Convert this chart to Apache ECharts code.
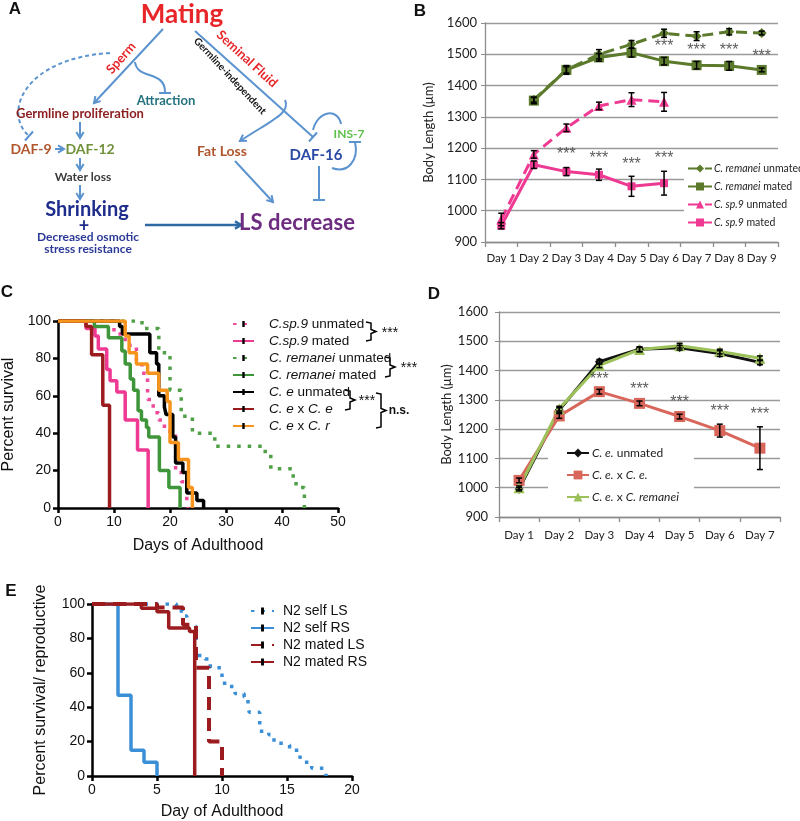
<!DOCTYPE html>
<html><head><meta charset="utf-8">
<script src="https://cdn.jsdelivr.net/npm/echarts/dist/echarts.min.js"></script>
<style>html,body{margin:0;padding:0;background:#fff}#c{width:800px;height:821px}</style>
</head><body><div id="c"></div>
<script>
// ---------------- Panel B data ----------------
const daysB = ['Day 1','Day 2','Day 3','Day 4','Day 5','Day 6','Day 7','Day 8','Day 9'];
const remUnmated    = [null, 1355, 1450, 1500, 1532, 1567, 1558, 1572, 1568];
const remUnmatedErr = [null, 8, 10, 15, 12, 13, 14, 10, 6];
const remMated      = [null, 1352, 1450, 1490, 1505, 1478, 1465, 1463, 1450];
const remMatedErr   = [null, 10, 14, 12, 14, 12, 12, 14, 6];
const sp9Unmated    = [972, 1180, 1265, 1335, 1355, 1348];
const sp9UnmatedErr = [20, 12, 12, 12, 22, 30];
const sp9Mated      = [952, 1147, 1125, 1115, 1078, 1088];
const sp9MatedErr   = [10, 12, 13, 18, 32, 38];
const starsBsp9 = [[2,1178],[3,1167],[4,1148],[5,1167]];
const starsBrem = [[5,1523],[6,1513],[7,1513],[8,1494]];

// ---------------- Panel C data (Kaplan-Meier step points: [day, % survival]) ----------------
const sp9UnmatedLS = [[0,100],[10,93],[12,87],[14,79],[15,72],[16,66],[16,58],[17,51],[18,47],[19,41],[21,19],[22,14],[23,4],[23.2,0]];
const sp9MatedLS   = [[0,100],[5,96],[6.6,92],[7.2,85],[8.7,74],[9.3,68],[10.5,62],[12,47],[14.2,31],[16.1,0]];
const remUnmatedLS = [[0,100],[15,96],[18,83],[20,70],[20,63],[22,55],[22,49],[24,47],[24,40],[28,33],[37,29],[38,21],[42,19],[42,13],[43,11],[44,6],[44,0]];
const remMatedLS   = [[0,100],[6.5,97],[9,91],[11.4,84],[12,77],[12.9,69],[13.5,63],[14.3,52],[14.9,47],[15.8,43],[16.2,38],[18.1,20],[19.8,11],[21.8,0]];
const ceUnmatedLS  = [[0,100],[11,97],[11.5,93],[16.4,83],[17.6,77],[18,60],[19,54],[19.3,50],[20.5,38],[21,24],[22.3,19],[23,8],[24.8,4],[26,0]];
const ceXceLS      = [[0,100],[5,97],[6,82],[8,55],[9.2,0]];
const ceXcrLS      = [[0,100],[12,92],[12.7,83],[14,77],[16,72],[18,63],[19.5,57],[20,35],[21.5,26],[23.3,11],[24,0]];

// ---------------- Panel D data ----------------
const daysD = ['Day 1','Day 2','Day 3','Day 4','Day 5','Day 6','Day 7'];
const ceUnmatedD    = [995, 1265, 1430, 1473, 1478, 1458, 1428];
const ceUnmatedDErr = [6, 8, 8, 8, 8, 10, 8];
const ceXceD        = [1025, 1245, 1328, 1288, 1243, 1195, 1135];
const ceXceDErr     = [8, 8, 8, 8, 8, 22, 73];
const ceXcrD        = [1000, 1270, 1418, 1472, 1485, 1465, 1442];
const ceXcrDErr     = [6, 8, 8, 8, 8, 8, 8];
const starsD = [[2,1369],[3,1335],[4,1289],[5,1260],[6,1249]];

// ---------------- Panel E data ----------------
const selfLS  = [[0,100],[6.5,96],[7,93],[7.3,87],[8,86],[8,70],[8.7,68],[9.1,63],[10,62],[10,56],[10.2,52],[11,48],[11.7,46],[12,40],[12.1,37],[12.9,35],[12.9,26],[13.6,24],[14,19],[14.9,18],[15.2,15],[16,11],[16.1,8],[16.9,4.5],[17.8,3.5],[18,0]];
const selfRS  = [[0,100],[2,47],[3,15],[4,8],[5,0]];
const matedLS = [[0,100],[5,98],[7,88],[8,84],[8,63],[9,20],[10,0]];
const matedRS = [[0,100],[3.8,97.5],[5,95.5],[5.9,86],[7.5,84],[7.9,0]];

// ---------------- helpers ----------------
const CAL = 'Lato, "Open Sans", sans-serif';
const HEL = '"Liberation Sans", Arial, sans-serif';

function errData(vals, errs){
  const out = [];
  vals.forEach((v,i)=>{ if(v!=null && errs[i]!=null) out.push([i, v-errs[i], v+errs[i]]); });
  return out;
}
function errRender(params, api){
  const x = api.value(0);
  const p1 = api.coord([x, api.value(1)]), p2 = api.coord([x, api.value(2)]);
  const w = 3, st = {stroke:'#000', lineWidth:1.5};
  return {type:'group', children:[
    {type:'line', shape:{x1:p1[0],y1:p1[1],x2:p2[0],y2:p2[1]}, style:st},
    {type:'line', shape:{x1:p1[0]-w,y1:p1[1],x2:p1[0]+w,y2:p1[1]}, style:st},
    {type:'line', shape:{x1:p2[0]-w,y1:p2[1],x2:p2[0]+w,y2:p2[1]}, style:st}
  ]};
}
function errSeries(idx, vals, errs){
  return {type:'custom', xAxisIndex:idx, yAxisIndex:idx, renderItem:errRender, data:errData(vals,errs), z:5, silent:true};
}
function starSeries(idx, pts){
  return {type:'scatter', xAxisIndex:idx, yAxisIndex:idx, data:pts, symbolSize:1, silent:true,
    itemStyle:{color:'rgba(0,0,0,0)'},
    label:{show:true, position:'inside', formatter:'***', color:'#333', fontSize:16, fontFamily:HEL}, z:6};
}
// censor-tick legend mark: thin bar in a square box (tiny corner specks keep the box square)
const TICK = 'path://M0 0h0.01v0.01h-0.01Z M1.05 0.4H1.95V2.6H1.05Z M2.99 2.99h0.01v0.01h-0.01Z';
function kmSeries(idx, name, data, color, dash, width){
  return {type:'line', name, xAxisIndex:idx, yAxisIndex:idx, data, step:'end', symbol:TICK, symbolSize:6, showSymbol:false, silent:true,
    lineStyle:{color, width:width||3.5, type:dash||'solid', cap:'butt'}, itemStyle:{color:'#000'}};
}
function lineSeries(idx, name, data, color, symbol, size, dash){
  return {type:'line', name, xAxisIndex:idx, yAxisIndex:idx, data, symbol, symbolSize:size, silent:true,
    lineStyle:{color, width:3, type:dash||'solid'}, itemStyle:{color}};
}

// graphic helpers for diagram
const BL = '#5b93cf';
function ln(x1,y1,x2,y2,c,w,dash){ return {type:'line', shape:{x1,y1,x2,y2}, style:{stroke:c||BL, lineWidth:w||2, lineDash:dash||null}, silent:true}; }
function head(x,y,ang,c,w){
  const L=7, s=0.55;
  return {type:'polyline', shape:{points:[[x-L*Math.cos(ang-s), y-L*Math.sin(ang-s)],[x,y],[x-L*Math.cos(ang+s), y-L*Math.sin(ang+s)]]}, style:{stroke:c||BL, lineWidth:w||2, fill:null}, silent:true};
}
function arrow(x1,y1,x2,y2,c,w){ return [ln(x1,y1,x2,y2,c,w), head(x2,y2,Math.atan2(y2-y1,x2-x1),c,w)]; }
function tbar(x,y,ang,c){ const L=6; const a=ang+Math.PI/2; return ln(x-L*Math.cos(a),y-L*Math.sin(a),x+L*Math.cos(a),y+L*Math.sin(a),c,2); }
function curve(x1,y1,cx1,cy1,cx2,cy2,x2,y2,c,dash){ return {type:'bezierCurve', shape:{x1,y1,cpx1:cx1,cpy1:cy1,cpx2:cx2,cpy2:cy2,x2,y2}, style:{stroke:c||BL, lineWidth:2, fill:null, lineDash:dash||null}, silent:true}; }
function txt(x,y,text,fill,font,rot){
  return {type:'text', x, y, rotation:rot||0, silent:true,
    style:{text, fill, font, textAlign:'center', textVerticalAlign:'middle', align:'center', verticalAlign:'middle'}};
}
function brace(x,y1,y2){
  const m=(y1+y2)/2;
  return {type:'polyline', shape:{points:[[x-5,y1],[x,y1+1],[x,m-2],[x+5,m],[x,m+2],[x,y2-1],[x-5,y2]]}, style:{stroke:'#000', lineWidth:1.5, fill:null}, silent:true};
}

const graphics = [].concat(
  // panel letters
  txt(15,9,'A','#111','bold 17px '+HEL),
  txt(420,11,'B','#111','bold 17px '+HEL),
  txt(7,292,'C','#111','bold 17px '+HEL),
  txt(434,294,'D','#111','bold 17px '+HEL),
  txt(11,591,'E','#111','bold 17px '+HEL),
  // ---- diagram A ----
  txt(182,15,'Mating','#e8262a','bold 26px '+CAL),
  arrow(163,29,94,103),
  curve(135,62,137,80,165,70,165,92),
  ln(159,93,171,93),
  txt(121,58,'Sperm','#e8262a','bold 13px '+CAL, 0.85),
  curve(110,53,25,58,2,112,29,136,BL,[4,3]),
  tbar(29,136,Math.atan2(136-112,29-2)),
  txt(166,101,'Attraction','#24737e','bold 13px '+CAL),
  txt(80,114,'Germline proliferation','#8b1e1e','bold 13px '+CAL),
  arrow(80,122,80,138),
  txt(31,149,'DAF-9','#b0562c','bold 14px '+CAL),
  arrow(55,149,64,149),
  txt(90,149,'DAF-12','#71903a','bold 14px '+CAL),
  arrow(80,158,80,170),
  txt(83,177,'Water loss','#3a3a3a','bold 12px '+CAL),
  arrow(80,185,80,199),
  txt(87,210,'Shrinking','#1e2c8c','bold 20px '+CAL),
  txt(84,226,'+','#1e2c8c','bold 18px '+CAL),
  txt(88,237,'Decreased osmotic','#2b3a96','bold 12px '+CAL),
  txt(88,249,'stress resistance','#2b3a96','bold 12px '+CAL),
  arrow(145,225,241,225,'#2f6aa5',2.5),
  txt(297,223,'LS decrease','#6d2c80','bold 22px '+CAL),
  ln(195,31,313,137),
  tbar(313,137,Math.atan2(106,118)),
  txt(247,59,'Seminal Fluid','#e8262a','bold 13px '+CAL,-0.74),
  txt(230,76,'Germline-independent','#111','bold 10px '+CAL,-0.82),
  curve(285,100,291,113,272,120,240,141),
  head(240,141,Math.atan2(141-120,240-272)),
  txt(222,151,'Fat Loss','#b0562c','bold 14px '+CAL),
  txt(316,155,'DAF-16','#2a4aa5','bold 15px '+CAL),
  txt(349,134,'INS-7','#5cc04a','bold 12px '+CAL),
  curve(313,130,318,110,338,108,341,124),
  curve(332,168,348,174,359,160,355,142),
  ln(349,142,361,142),
  arrow(235,161,273,202),
  ln(319,166,319,200),
  ln(313,200,325,200),
  // ---- panel C annotations ----
  brace(371,322,341),
  txt(390,333,'***','#111','14px '+HEL),
  brace(390,357,377),
  txt(409,368,'***','#111','14px '+HEL),
  brace(350,390,410),
  txt(367,401,'***','#111','14px '+HEL),
  brace(381,393,428),
  txt(399,411,'n.s.','#111','bold 12px '+HEL)
);

// legend label maps
const rB = {'C. remanei unmated':'{i|C. remanei} unmated','C. remanei mated':'{i|C. remanei} mated','C. sp.9 unmated':'{i|C. sp.9} unmated','C. sp.9 mated':'{i|C. sp.9} mated'};
const rC = {'C.sp.9 unmated':'{i|C.sp.9} unmated','C.sp.9 mated':'{i|C.sp.9} mated','C. remanei unmated ':'{i|C. remanei} unmated','C. remanei mated ':'{i|C. remanei} mated','C. e unmated':'{i|C. e} unmated','C. e x C. e':'{i|C. e} x {i|C. e}','C. e x C. r':'{i|C. e} x {i|C. r}'};
const rD = {'C. e. unmated':'{i|C. e.} unmated','C. e. x C. e.':'{i|C. e.} x {i|C. e.}','C. e. x C. remanei':'{i|C. e.} x {i|C. remanei}'};

function catX(idx, data, margin){
  return {gridIndex:idx, type:'category', data, boundaryGap:true,
    axisLine:{lineStyle:{color:'#8c8c8c', width:1.3}},
    axisTick:{show:true, length:5, interval:0, lineStyle:{color:'#8c8c8c', width:1.3}},
    axisLabel:{color:'#222', fontSize:11.5, fontFamily:CAL, margin, interval:0},
    splitLine:{show:false}};
}
function bodyY(idx, gap, margin){
  return {gridIndex:idx, type:'value', min:900, max:1600, interval:100,
    axisLine:{show:true, lineStyle:{color:'#8c8c8c', width:1.3}},
    axisTick:{show:true, length:4, lineStyle:{color:'#8c8c8c'}},
    axisLabel:{color:'#222', fontSize:13, fontFamily:CAL, margin, formatter:v=>String(v)},
    splitLine:{show:true, lineStyle:{color:'#9a9a9a', width:1.3}},
    name:'Body Length (μm)', nameLocation:'middle', nameGap:gap, nameRotate:90,
    nameTextStyle:{color:'#222', fontSize:13, fontFamily:CAL}};
}
function valX(idx, max, interval, name, gap){
  return {gridIndex:idx, type:'value', min:0, max, interval,
    axisLine:{lineStyle:{color:'#000', width:2.5}},
    axisTick:{show:true, length:5, lineStyle:{color:'#000', width:2.5}},
    axisLabel:{color:'#111', fontSize:14, fontFamily:HEL, margin:7},
    splitLine:{show:false},
    name, nameLocation:'middle', nameGap:gap, nameTextStyle:{color:'#111', fontSize:16, fontFamily:HEL}};
}
function pctY(idx, name, gap){
  return {gridIndex:idx, type:'value', min:0, max:100, interval:20,
    axisLine:{show:true, lineStyle:{color:'#000', width:2.5}},
    axisTick:{show:true, length:5, lineStyle:{color:'#000', width:2.5}},
    axisLabel:{color:'#111', fontSize:14, fontFamily:HEL, margin:7},
    splitLine:{show:false},
    name, nameLocation:'middle', nameGap:gap, nameRotate:90, nameTextStyle:{color:'#111', fontSize:16, fontFamily:HEL}};
}

const GREEN_B = '#5b7a2c', PINK = '#ee3a92';
const option = {
  animation:false,
  backgroundColor:'#fff',
  grid:[
    {left:485, top:23, width:293, height:219, containLabel:false, outerBoundsMode:'none'},
    {left:58, top:321, width:280, height:187, containLabel:false, outerBoundsMode:'none'},
    {left:499, top:312, width:281, height:205, containLabel:false, outerBoundsMode:'none'},
    {left:92, top:604, width:260, height:172, containLabel:false, outerBoundsMode:'none'}
  ],
  xAxis:[ catX(0, daysB, 10), valX(1, 50, 10, 'Days of Adulthood', 30), catX(2, daysD, 12), valX(3, 20, 5, 'Day of Adulthood', 28) ],
  yAxis:[ bodyY(0, 50, 8), pctY(1, 'Percent survival', 41), bodyY(2, 46, 11), pctY(3, 'Percent survival/ reproductive', 43) ],
  legend:[
    {data:['C. remanei unmated','C. remanei mated','C. sp.9 unmated','C. sp.9 mated'], orient:'vertical', left:684, top:160,
     backgroundColor:'#fff', padding:[3,2,3,3], itemGap:7, itemWidth:24, itemHeight:10, selectedMode:false,
     formatter:n=>rB[n]||n, textStyle:{fontSize:10.5, fontFamily:CAL, color:'#222', padding:[0,0,0,-3], rich:{i:{fontStyle:'italic', fontSize:10.5, fontFamily:CAL, color:'#222'}}}},
    {data:Object.keys(rC), orient:'vertical', left:229, top:314, padding:3, itemGap:3, itemWidth:21, itemHeight:10, selectedMode:false,
     formatter:n=>rC[n]||n, textStyle:{fontSize:13.5, fontFamily:HEL, color:'#111', padding:[0,0,0,10], rich:{i:{fontStyle:'italic', fontSize:13.5, fontFamily:HEL, color:'#111'}}}},
    {data:Object.keys(rD), orient:'vertical', left:548, top:443, backgroundColor:'#fff', padding:[4,15,4,18], itemGap:10, itemWidth:22, itemHeight:11, selectedMode:false,
     formatter:n=>rD[n]||n, textStyle:{fontSize:12, fontFamily:CAL, color:'#222', padding:[0,0,0,-2], rich:{i:{fontStyle:'italic', fontSize:12, fontFamily:CAL, color:'#222'}}}},
    {data:['N2 self LS','N2 self RS','N2 mated LS','N2 mated RS'], orient:'vertical', left:247, top:601, padding:3, itemGap:3, itemWidth:23, itemHeight:12, selectedMode:false,
     textStyle:{fontSize:14, fontFamily:HEL, color:'#111', padding:[0,0,0,4]}}
  ],
  series:[
    // B
    lineSeries(0,'C. remanei unmated', remUnmated, GREEN_B, 'diamond', 10, [11,6]),
    lineSeries(0,'C. remanei mated', remMated, GREEN_B, 'rect', 10),
    lineSeries(0,'C. sp.9 unmated', sp9Unmated, PINK, 'triangle', 10, [11,6]),
    lineSeries(0,'C. sp.9 mated', sp9Mated, PINK, 'rect', 8),
    errSeries(0, remUnmated, remUnmatedErr),
    errSeries(0, remMated, remMatedErr),
    errSeries(0, sp9Unmated, sp9UnmatedErr),
    errSeries(0, sp9Mated, sp9MatedErr),
    starSeries(0, starsBsp9),
    starSeries(0, starsBrem),
    // C
    kmSeries(1,'C.sp.9 unmated', sp9UnmatedLS, '#ef4a9b', [3.5,7]),
    kmSeries(1,'C.sp.9 mated', sp9MatedLS, '#ee3a92'),
    kmSeries(1,'C. remanei unmated ', remUnmatedLS, '#4fa046', [3.5,7]),
    kmSeries(1,'C. remanei mated ', remMatedLS, '#3f963a'),
    kmSeries(1,'C. e unmated', ceUnmatedLS, '#000'),
    kmSeries(1,'C. e x C. e', ceXceLS, '#9b1b1f'),
    kmSeries(1,'C. e x C. r', ceXcrLS, '#f7941d'),
    // D
    lineSeries(2,'C. e. unmated', ceUnmatedD, '#111', 'diamond', 9),
    lineSeries(2,'C. e. x C. e.', ceXceD, '#d9665b', 'rect', 11),
    lineSeries(2,'C. e. x C. remanei', ceXcrD, '#9cc05a', 'triangle', 11),
    errSeries(2, ceUnmatedD, ceUnmatedDErr),
    errSeries(2, ceXceD, ceXceDErr),
    errSeries(2, ceXcrD, ceXcrDErr),
    starSeries(2, starsD),
    // E
    kmSeries(3,'N2 self LS', selfLS, '#3a8fd6', [3.5,7]),
    kmSeries(3,'N2 self RS', selfRS, '#3a8fd6'),
    kmSeries(3,'N2 mated LS', matedLS, '#9b1b1f', [13,8], 4),
    kmSeries(3,'N2 mated RS', matedRS, '#9b1b1f')
  ],
  graphic:graphics
};
const chart = echarts.init(document.getElementById('c'));
chart.setOption(option);
</script>
</body></html>
